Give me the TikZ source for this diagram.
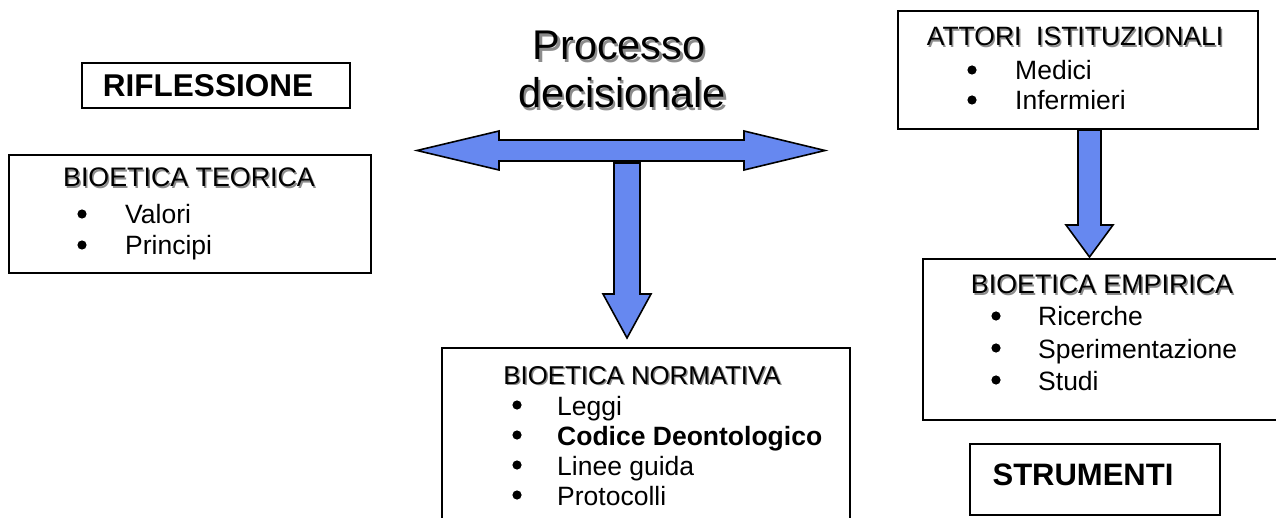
\documentclass[tikz,border=0pt]{standalone}
\usepackage{fontspec}
\setmainfont{Liberation Sans}
\definecolor{arrowblue}{RGB}{102,136,240}
\definecolor{shadowgray}{RGB}{140,140,140}
\begin{document}
\begin{tikzpicture}[x=1pt,y=-1pt,
  box/.style={draw=black, line width=1.6pt, fill=white, inner sep=0pt, anchor=north west},
  ttl/.style={font=\fontsize{#1}{30}\selectfont, anchor=base, inner sep=0pt},
  ttlsh/.style={ttl=#1, text=shadowgray},
  itm/.style={font=\fontsize{26.5}{30}\selectfont, anchor=base west, inner sep=0pt},
  dot/.style={fill=black},
  big/.style={font=\fontsize{41.5}{48}\selectfont, anchor=base, inner sep=0pt},
  bigsh/.style={big, text=shadowgray},
  blk/.style={draw=black, line width=1.6pt, fill=arrowblue, line join=miter}]
\clip (0,0) rectangle (1276,518);
\fill[white] (0,0) rectangle (1276,518);

% boxes
\node[box, minimum width=268pt, minimum height=45pt] (rifl) at (81,62) {};
\node[box, minimum width=362pt, minimum height=118pt] (teor) at (8,154) {};
\node[box, minimum width=408pt, minimum height=200pt] (norm) at (441,347) {};
\node[box, minimum width=360pt, minimum height=118pt] (attori) at (897,10) {};
\node[box, minimum width=370pt, minimum height=161pt] (empir) at (922,258) {};
\node[box, minimum width=250pt, minimum height=71pt] (strum) at (969,443) {};

% title
\node[bigsh] (procS) at (621.5,62.5) {Processo};
\node[big] (proc) at (619,60) {Processo};
\node[bigsh] (decS) at (624.5,110.5) {decisionale};
\node[big] (dec) at (622,108) {decisionale};

% RIFLESSIONE / STRUMENTI
\node[font=\fontsize{31.5}{34}\selectfont\bfseries, anchor=base, inner sep=0pt] (riflT) at (208,97) {RIFLESSIONE};
\node[font=\fontsize{31}{34}\selectfont\bfseries, anchor=base, inner sep=0pt] (strumT) at (1083,485) {STRUMENTI};

% BIOETICA TEORICA
\node[ttlsh=26.8] (teorTS) at (190.5,188.5) {BIOETICA TEORICA};
\node[ttl=26.8] (teorT) at (189,187) {BIOETICA TEORICA};
\fill[dot] (82,214) circle (4.6pt);
\node[itm] (teorI1) at (125,224) {Valori};
\fill[dot] (82,245) circle (4.6pt);
\node[itm] (teorI2) at (125,255) {Principi};

% BIOETICA NORMATIVA
\node[ttlsh=25.8] (normTS) at (643.5,385.5) {BIOETICA NORMATIVA};
\node[ttl=25.8] (normT) at (642,384) {BIOETICA NORMATIVA};
\fill[dot] (517,405) circle (4.6pt);
\node[itm] (normI1) at (557,415) {Leggi};
\fill[dot] (517,435) circle (4.6pt);
\node[itm, font=\fontsize{26.5}{30}\selectfont\bfseries] (normI2) at (557,445) {Codice Deontologico};
\fill[dot] (517,465) circle (4.6pt);
\node[itm] (normI3) at (557,475) {Linee guida};
\fill[dot] (517,495) circle (4.6pt);
\node[itm] (normI4) at (557,505) {Protocolli};

% ATTORI ISTITUZIONALI
\node[ttlsh=26.5] (attTS) at (1076.5,47.5) {ATTORI\ \ ISTITUZIONALI};
\node[ttl=26.5] (attT) at (1075,46) {ATTORI\ \ ISTITUZIONALI};
\fill[dot] (972,70) circle (4.6pt);
\node[itm] (attI1) at (1015,80) {Medici};
\fill[dot] (972,100) circle (4.6pt);
\node[itm] (attI2) at (1015,110) {Infermieri};

% BIOETICA EMPIRICA
\node[ttlsh=26.8] (empTS) at (1103.5,295.5) {BIOETICA EMPIRICA};
\node[ttl=26.8] (empT) at (1102,294) {BIOETICA EMPIRICA};
\fill[dot] (996,316) circle (4.6pt);
\node[itm] (empI1) at (1038,326) {Ricerche};
\fill[dot] (996,348) circle (4.6pt);
\node[itm] (empI2) at (1038,358) {Sperimentazione};
\fill[dot] (996,380) circle (4.6pt);
\node[itm] (empI3) at (1038,390) {Studi};

% block arrows
\draw[blk] (417,150.5) -- (499,131) -- (499,140) -- (744,140) -- (744,131) -- (825,150.5)
  -- (744,170) -- (744,161) -- (499,161) -- (499,170) -- cycle;
\draw[blk] (614,163) -- (640,163) -- (640,294) -- (651,294) -- (627,338) -- (603,294) -- (614,294) -- cycle;
\draw[blk] (1078,130) -- (1101,130) -- (1101,225) -- (1113,225) -- (1089.5,257) -- (1066,225) -- (1078,225) -- cycle;
\end{tikzpicture}
\end{document}
